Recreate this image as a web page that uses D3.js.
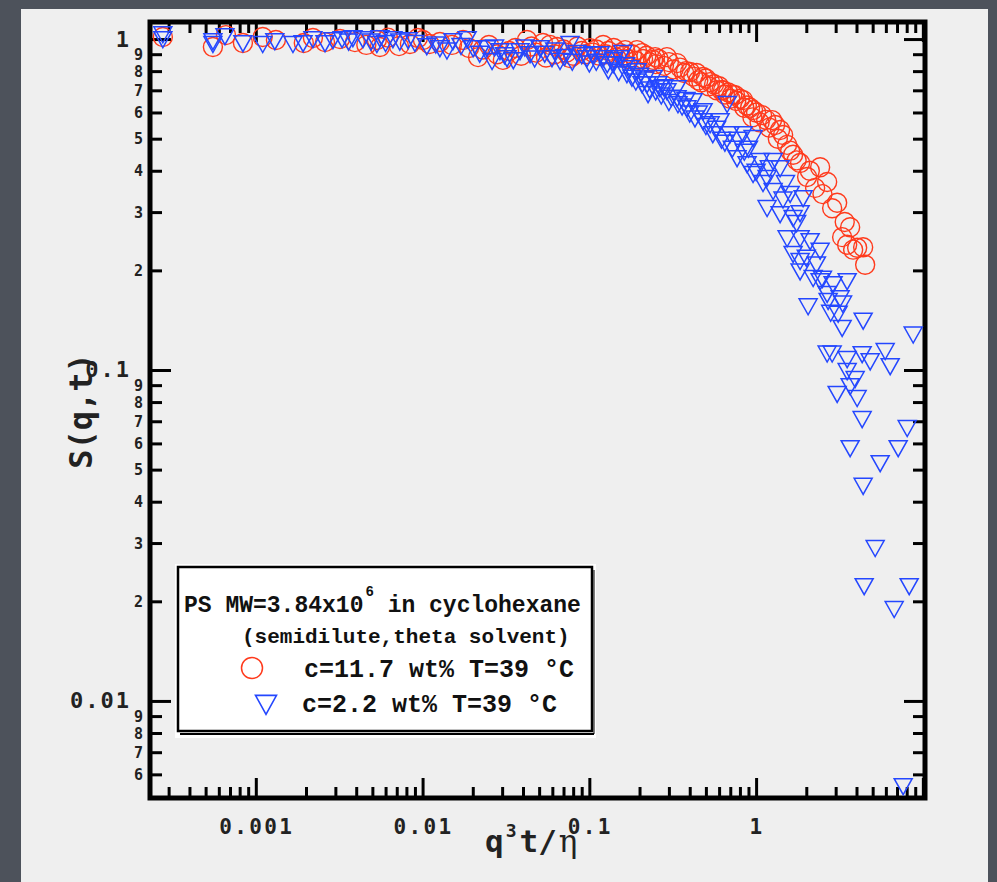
<!DOCTYPE html>
<html>
<head>
<meta charset="utf-8">
<script src="https://cdn.jsdelivr.net/npm/d3@7"></script>
<style>
  body { margin: 0; background: #4d525b; }
  svg { display: block; }
</style>
</head>
<body>
<svg id="chart" width="997" height="882"></svg>
<script>
// c=11.7 wt%  (q^3 t / eta , S(q,t))
const redPoints = [
  [2.77e-4,1.014],[5.53e-4,0.946],[6.62e-4,1.028],[8.37e-4,0.973],[1.10e-3,1.014],[1.32e-3,0.993],
  [1.94e-3,0.973],[2.20e-3,1.007],[2.60e-3,0.979],[3.2e-3,1.0],[3.93e-3,0.979],[4.6e-3,0.96],
  [5.32e-3,0.993],[5.55e-3,0.946],[6.2e-3,1.01],[7.22e-3,0.952],[8.40e-3,0.966],[9.38e-3,1.007],
  [0.01005,0.993],[0.011,0.966],[0.0127,0.98],[0.015,0.96],[0.0175,0.993],[0.019,0.94],
  [0.0215,0.882],[0.023,0.93],[0.025,0.959],[0.028,0.90],[0.0303,0.865],[0.033,0.92],
  [0.036,0.94],[0.039,0.89],[0.0423,0.993],[0.045,0.95],[0.048,0.91],[0.0527,0.973],
  [0.055,0.88],[0.058,0.96],[0.062,0.90],[0.064,0.946],[0.07,0.93],[0.073,0.91],[0.0766,0.876],
  [0.08,0.89],[0.085,0.95],[0.09,0.92],[0.095,0.90],[0.101,0.939],[0.105,0.91],[0.11,0.93],
  [0.115,0.89],[0.121,0.959],[0.125,0.90],[0.13,0.92],[0.14,0.94],[0.145,0.88],[0.153,0.907],
  [0.16,0.89],[0.164,0.926],[0.17,0.87],[0.18,0.90],[0.19,0.86],[0.193,0.926],[0.207,0.907],
  [0.21,0.87],[0.22,0.89],[0.23,0.85],[0.241,0.865],[0.248,0.882],[0.25,0.84],[0.26,0.87],
  [0.28,0.83],[0.292,0.882],[0.30,0.852],[0.32,0.81],[0.336,0.846],[0.35,0.82],[0.37,0.79],
  [0.38,0.80],[0.402,0.795],[0.42,0.77],[0.44,0.79],[0.45,0.75],[0.47,0.74],[0.481,0.768],
  [0.50,0.76],[0.52,0.72],[0.53,0.741],[0.56,0.73],[0.58,0.70],[0.60,0.72],[0.62,0.70],
  [0.634,0.701],[0.65,0.68],[0.68,0.69],[0.70,0.66],[0.72,0.68],[0.748,0.677],[0.76,0.65],
  [0.80,0.66],[0.836,0.654],[0.85,0.62],[0.88,0.63],[0.92,0.62],[0.95,0.58],[0.959,0.61],
  [1.0,0.60],[1.05,0.56],[1.086,0.589],[1.15,0.57],[1.2,0.54],[1.247,0.569],[1.3,0.55],
  [1.35,0.50],[1.393,0.531],[1.452,0.513],[1.535,0.479],[1.6,0.46],[1.667,0.447],[1.75,0.43],
  [1.836,0.422],[2.023,0.383],[2.1,0.40],[2.259,0.355],[2.421,0.410],[2.5,0.34],[2.667,0.370],
  [2.858,0.308],[3.062,0.320],[3.281,0.252],[3.4,0.28],[3.516,0.239],[3.664,0.270],
  [3.819,0.231],[4.036,0.234],[4.385,0.235],[4.508,0.208]
];

// c=2.2 wt%
const bluePoints = [
  [2.77e-4,1.042],[2.77e-4,1.007],[5.53e-4,0.973],[5.53e-4,0.993],[6.53e-4,1.028],[8.37e-4,0.979],
  [1.10e-3,0.973],[1.30e-3,0.993],[1.67e-3,0.973],[1.92e-3,0.979],[2.20e-3,1.007],[2.60e-3,0.979],
  [2.9e-3,1.0],[3.29e-3,1.007],[3.6e-3,0.99],[3.82e-3,1.014],[4.39e-3,1.007],[4.9e-3,0.99],
  [5.32e-3,0.973],[5.55e-3,1.014],[6.0e-3,0.98],[6.64e-3,1.007],[7.3e-3,0.99],[8.2e-3,1.0],[9.0e-3,0.98],
  [0.0106,0.959],[0.012,0.97],[0.0127,0.946],[0.014,0.93],[0.0152,0.993],[0.017,0.96],
  [0.0185,1.007],[0.0201,0.946],[0.022,0.91],[0.0243,0.946],[0.0261,0.865],[0.027,0.95],
  [0.0291,0.926],[0.031,0.90],[0.0321,0.882],[0.035,0.87],[0.0384,0.926],[0.041,0.95],
  [0.0441,0.907],[0.047,0.88],[0.0506,0.946],[0.054,0.91],[0.0597,0.882],[0.062,0.93],
  [0.0667,0.865],[0.071,0.89],[0.0766,0.973],[0.079,0.86],[0.0844,0.914],[0.09,0.90],
  [0.0968,0.882],[0.10,0.85],[0.105,0.907],[0.11,0.86],[0.116,0.907],[0.121,0.882],[0.128,0.846],
  [0.13,0.81],[0.139,0.846],[0.14,0.87],[0.15,0.80],[0.153,0.882],[0.159,0.914],[0.165,0.84],
  [0.168,0.789],[0.175,0.823],[0.18,0.77],[0.19,0.75],[0.193,0.806],[0.20,0.78],[0.207,0.736],
  [0.215,0.76],[0.222,0.736],[0.225,0.687],[0.23,0.71],[0.241,0.768],[0.25,0.70],[0.258,0.736],
  [0.265,0.716],[0.27,0.68],[0.28,0.72],[0.292,0.701],[0.30,0.65],[0.31,0.67],[0.336,0.716],
  [0.336,0.668],[0.34,0.64],[0.36,0.63],[0.38,0.66],[0.385,0.623],[0.40,0.60],[0.419,0.654],
  [0.43,0.58],[0.45,0.60],[0.481,0.61],[0.481,0.569],[0.50,0.55],[0.53,0.557],[0.55,0.52],
  [0.58,0.54],[0.608,0.569],[0.62,0.50],[0.65,0.49],[0.67,0.641],[0.698,0.52],[0.72,0.47],
  [0.769,0.44],[0.78,0.50],[0.836,0.52],[0.85,0.46],[0.883,0.422],[0.9,0.47],[0.959,0.506],
  [0.959,0.394],[1.0,0.40],[1.057,0.431],[1.1,0.37],[1.164,0.383],[1.2,0.41],[1.265,0.431],
  [1.393,0.41],[1.265,0.35],[1.45,0.33],[1.5,0.37],[1.6,0.343],[1.914,0.333],[1.164,0.311],
  [1.393,0.298],[1.667,0.29],[1.75,0.28],[1.836,0.30],[1.535,0.252],[1.836,0.252],[2.0,0.22],
  [2.109,0.247],[2.3,0.21],[2.421,0.231],[1.667,0.226],[1.836,0.215],[1.836,0.20],[2.198,0.191],
  [2.421,0.187],[2.5,0.19],[2.8,0.15],[2.897,0.183],[3.3,0.16],[3.516,0.187],[2.667,0.171],
  [3.191,0.166],[2.051,0.157],[2.704,0.163],[3.105,0.149],[3.281,0.135],[4.385,0.142],[8.75,0.129],
  [2.667,0.113],[2.858,0.113],[3.516,0.1087],[4.325,0.1125],[4.831,0.107],[5.943,0.115],
  [6.368,0.1035],[3.516,0.100],[3.926,0.0946],[3.664,0.090],[4.036,0.0829],[3.062,0.0853],
  [4.325,0.0716],[8.054,0.0673],[3.664,0.0585],[7.112,0.0585],[5.546,0.0527],[4.385,0.045],
  [5.176,0.0292],[4.446,0.0224],[8.279,0.0224],[6.73,0.0191],[7.621,0.00557]
];

const xMajorTicks = [0.001, 0.01, 0.1, 1, 10];
const xTickLabels = [[0.001, "0.001"], [0.01, "0.01"], [0.1, "0.1"], [1, "1"]];
const yMajorTicks = [0.01, 0.1, 1];
const yTickLabels = [[1, "1"], [0.1, "0.1"], [0.01, "0.01"]];
const minorDigits = [2, 3, 4, 5, 6, 7, 8, 9];
const legendLines = ["(semidilute,theta solvent)", "c=11.7 wt% T=39 °C", "c=2.2 wt% T=39 °C"];

const svg = d3.select('#chart');
const pL = 150, pR = 925, pT = 22, pB = 798;

// page panel
svg.append('rect').attr('x', 21).attr('y', 9).attr('width', 967).attr('height', 873).attr('fill', '#efefef');

const x = d3.scaleLog().domain([2.32e-4, 10.3]).range([pL, pR]);
const y = d3.scaleLog().domain([0.00509, 1.126]).range([pB, pT]);

function minorsOf(scale, decades) {
  const [a, b] = scale.domain().slice().sort((p, q) => p - q);
  let out = [];
  decades.forEach(d => minorDigits.forEach(k => {
    const v = k * d;
    if (v > a && v < b) out.push(v);
  }));
  return out;
}
const xMinor = minorsOf(x, [1e-4, 1e-3, 1e-2, 1e-1, 1]);
const yMinor = minorsOf(y, [1e-3, 1e-2, 1e-1]);

function tickGroup(axis, transform) {
  const g = svg.append('g').attr('transform', transform).call(axis);
  g.select('.domain').remove();
  g.selectAll('text').remove();
  g.selectAll('line').attr('stroke', '#000').attr('stroke-width', 3);
  return g;
}
// bottom & top (inward)
tickGroup(d3.axisTop(x).tickValues(xMajorTicks).tickSize(20), `translate(0,${pB})`);
tickGroup(d3.axisTop(x).tickValues(xMinor).tickSize(11), `translate(0,${pB})`);
tickGroup(d3.axisBottom(x).tickValues(xMajorTicks).tickSize(20), `translate(0,${pT})`);
tickGroup(d3.axisBottom(x).tickValues(xMinor).tickSize(11), `translate(0,${pT})`);
// left & right (inward)
tickGroup(d3.axisRight(y).tickValues(yMajorTicks).tickSize(21), `translate(${pL},0)`);
tickGroup(d3.axisRight(y).tickValues(yMinor).tickSize(12), `translate(${pL},0)`);
tickGroup(d3.axisLeft(y).tickValues(yMajorTicks).tickSize(21), `translate(${pR},0)`);
tickGroup(d3.axisLeft(y).tickValues(yMinor).tickSize(12), `translate(${pR},0)`);

svg.append('rect').attr('x', pL).attr('y', pT).attr('width', pR - pL).attr('height', pB - pT)
  .attr('fill', 'none').attr('stroke', '#000').attr('stroke-width', 5);

const monoFont = '"DejaVu Sans Mono", monospace';

// tick labels
svg.append('g').selectAll('text').data(xTickLabels).enter().append('text')
  .attr('x', d => x(d[0]) + 1).attr('y', 834)
  .attr('text-anchor', 'middle').attr('font-family', monoFont).attr('font-weight', 'bold')
  .attr('font-size', 21).attr('letter-spacing', 2.4).attr('fill', '#222')
  .text(d => d[1]);

svg.append('g').selectAll('text').data(yTickLabels).enter().append('text')
  .attr('x', 131).attr('y', d => y(d[0]) + 7.5)
  .attr('text-anchor', 'end').attr('font-family', monoFont).attr('font-weight', 'bold')
  .attr('font-size', 22).attr('letter-spacing', 2).attr('fill', '#222')
  .text(d => d[1]);

svg.append('g').selectAll('text').data(yMinor).enter().append('text')
  .attr('x', 143).attr('y', d => y(d) + 5.5)
  .attr('text-anchor', 'end').attr('font-family', monoFont).attr('font-weight', 'bold')
  .attr('font-size', 15).attr('fill', '#222')
  .text(d => Math.round(d / Math.pow(10, Math.floor(Math.log10(d) + 1e-9))));

// axis titles
svg.append('text').attr('transform', 'translate(92,411) rotate(-90)')
  .attr('text-anchor', 'middle').attr('font-family', monoFont).attr('font-weight', 'bold')
  .attr('font-size', 32).attr('fill', '#222').text('S(q,t)');

const xt = svg.append('text').attr('x', 485).attr('y', 852)
  .attr('font-family', monoFont).attr('font-weight', 'bold').attr('font-size', 31).attr('fill', '#222');
xt.append('tspan').text('q');
xt.append('tspan').attr('font-size', 18).attr('dy', -15).attr('dx', 2).text('3');
xt.append('tspan').attr('dy', 15).attr('dx', 3).text('t/');
xt.append('tspan').attr('font-family', '"DejaVu Serif", serif').attr('font-weight', 'normal').attr('dx', 2).text('η');

// data marks
const red = '#ff3a1c', blue = '#2447ff';
svg.append('g').selectAll('circle').data(redPoints).enter().append('circle')
  .attr('cx', d => x(d[0])).attr('cy', d => y(d[1])).attr('r', 9.5)
  .attr('fill', 'none').attr('stroke', red).attr('stroke-width', 1.4);

const tri = (w, h) => `M${-w / 2},${-h * 0.4}L${w / 2},${-h * 0.4}L0,${h * 0.6}Z`;
svg.append('g').selectAll('path').data(bluePoints).enter().append('path')
  .attr('transform', d => `translate(${x(d[0])},${y(d[1])})`)
  .attr('d', tri(18, 16))
  .attr('fill', 'none').attr('stroke', blue).attr('stroke-width', 1.5);

// legend
const lg = svg.append('g');
lg.append('rect').attr('x', 175).attr('y', 564).attr('width', 421).attr('height', 174).attr('fill', '#fff');
lg.append('rect').attr('x', 178).attr('y', 567).attr('width', 414).attr('height', 164)
  .attr('fill', '#fff').attr('stroke', '#000').attr('stroke-width', 2.5);
lg.append('line').attr('x1', 180).attr('x2', 594).attr('y1', 734).attr('y2', 734).attr('stroke', '#000').attr('stroke-width', 2);
lg.append('line').attr('x1', 594).attr('x2', 594).attr('y1', 570).attr('y2', 734).attr('stroke', '#000').attr('stroke-width', 1);

const legFont = '"Liberation Mono", "Courier New", monospace';
const l1 = lg.append('text').attr('x', 184).attr('y', 612).attr('font-family', legFont)
  .attr('font-weight', 'bold').attr('font-size', 23).attr('fill', '#111');
l1.append('tspan').text('PS MW=3.84x10');
l1.append('tspan').attr('font-size', 14).attr('dy', -16).attr('dx', 2).text('6');
l1.append('tspan').attr('dy', 16).text(' in cyclohexane');

lg.append('text').attr('x', 242).attr('y', 643).attr('font-family', legFont)
  .attr('font-weight', 'bold').attr('font-size', 21).attr('fill', '#111').text(legendLines[0]);
lg.append('text').attr('x', 304).attr('y', 677).attr('font-family', legFont)
  .attr('font-weight', 'bold').attr('font-size', 25).attr('fill', '#111').text(legendLines[1]);
lg.append('text').attr('x', 302).attr('y', 712).attr('font-family', legFont)
  .attr('font-weight', 'bold').attr('font-size', 25).attr('fill', '#111').text(legendLines[2]);

lg.append('circle').attr('cx', 252).attr('cy', 668).attr('r', 10.5)
  .attr('fill', 'none').attr('stroke', red).attr('stroke-width', 1.5);
lg.append('path').attr('transform', 'translate(266,703)').attr('d', tri(21, 19))
  .attr('fill', 'none').attr('stroke', blue).attr('stroke-width', 1.6);
</script>
</body>
</html>
